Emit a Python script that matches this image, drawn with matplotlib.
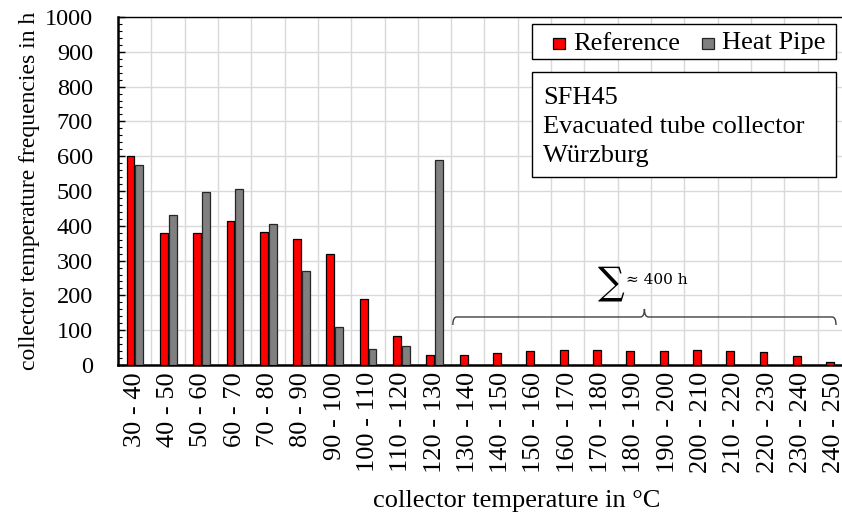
import matplotlib
matplotlib.use("Agg")
import matplotlib.pyplot as plt
import numpy as np
from matplotlib.path import Path
from matplotlib.patches import PathPatch, Rectangle

plt.rcParams['font.family'] = ['Liberation Serif', 'DejaVu Serif']

categories = ["30 - 40", "40 - 50", "50 - 60", "60 - 70", "70 - 80", "80 - 90",
              "90 - 100", "100 - 110", "110 - 120", "120 - 130", "130 - 140",
              "140 - 150", "150 - 160", "160 - 170", "170 - 180", "180 - 190",
              "190 - 200", "200 - 210", "210 - 220", "220 - 230", "230 - 240",
              "240 - 250"]
reference = [600, 378, 380, 414, 382, 361, 319, 190, 84, 29, 29,
             34, 40, 43, 43, 41, 40, 43, 40, 38, 25, 10]
heat_pipe = [575, 432, 496, 507, 404, 271, 110, 46, 55, 590, 0,
             0, 0, 0, 0, 0, 0, 0, 0, 0, 0, 0]
series_names = ["Reference", "Heat Pipe"]
series_colors = ["#ff0000", "#808080"]
series_edges = ["#000000", "#262626"]
yticks = list(range(0, 1001, 100))

W, H = 842, 519
fig = plt.figure(figsize=(W / 100, H / 100), dpi=100)
ax = fig.add_axes([118 / W, 1 - 365 / H, 733 / W, 348 / H])

x = np.arange(len(categories))
bw = 0.235
ax.bar(x - 0.125, reference, width=bw, color=series_colors[0],
       edgecolor=series_edges[0], linewidth=0.9, zorder=3, label=series_names[0])
ax.bar(x + 0.14, heat_pipe, width=bw, color=series_colors[1],
       edgecolor=series_edges[1], linewidth=0.9, zorder=3, label=series_names[1])

ax.set_xlim(-0.5, len(categories) - 0.5)
ax.set_ylim(0, 1000)
ax.set_yticks(yticks)
ax.set_yticks(np.arange(0, 1001, 20), minor=True)
ax.set_xticks(x)
ax.set_xticklabels(categories, rotation=90, va="top", ha="center")
ax.set_xticks(np.arange(0.5, len(categories) - 0.5, 1), minor=True)

ax.grid(True, axis="y", which="major", color="#d9d9d9", linewidth=1.0, zorder=0)
ax.grid(True, axis="x", which="minor", color="#d9d9d9", linewidth=1.0, zorder=0)
ax.set_axisbelow(True)

ax.tick_params(axis="y", which="major", direction="in", length=5, width=1,
               labelsize=17.5, pad=18, color="#000000")
ax.tick_params(axis="y", which="minor", direction="in", length=3, width=0.8)
ax.tick_params(axis="x", which="both", length=0, labelsize=19, pad=5)

for side in ("left", "bottom"):
    ax.spines[side].set_linewidth(1.8)
    ax.spines[side].set_color("#000000")
ax.spines["top"].set_linewidth(1.0)
ax.spines["right"].set_visible(False)

ax.set_ylabel("collector temperature frequencies in h", fontsize=17)
ax.yaxis.set_label_coords(-0.106, 0.5)
ax.set_xlabel("collector temperature in °C", fontsize=19)
ax.xaxis.label.set_verticalalignment("baseline")
ax.xaxis.set_label_coords(0.544, -0.408)

# legend box, drawn by hand in figure pixels
def fx(px):
    return px / W

def fy(py):
    return 1 - py / H

fig.patches.append(Rectangle((fx(532), fy(59)), (836 - 532) / W, (59 - 24) / H,
                             transform=fig.transFigure, facecolor="white",
                             edgecolor="#000000", linewidth=1.0, zorder=5))
for sx, tx, name, fc, ec in zip([553, 702], [573, 722], series_names,
                                series_colors, series_edges):
    fig.patches.append(Rectangle((fx(sx), fy(48.5)), 12 / W, 11 / H,
                                 transform=fig.transFigure, facecolor=fc,
                                 edgecolor=ec, linewidth=0.9, zorder=6))
    fig.text(fx(tx), fy(49.5), name, fontsize=19, va="baseline", ha="left",
             zorder=6)

# info box
fig.patches.append(Rectangle((fx(532), fy(177)), (836 - 532) / W, (177 - 72) / H,
                             transform=fig.transFigure, facecolor="white",
                             edgecolor="#000000", linewidth=1.0, zorder=5))
for i, line in enumerate(["SFH45", "Evacuated tube collector", "Würzburg"]):
    fig.text(fx(543), fy(103.5 + 29.3 * i), line, fontsize=19,
             va="baseline", ha="left", zorder=6)

# brace over the high-temperature bins
bx0, bx1 = 9.55, 21.05
bxc = (bx0 + bx1) / 2
ymid, yend, ytop = 138, 115, 161
r = 0.12
verts = [(bx0, yend), (bx0, ymid), (bx0 + r, ymid),
         (bxc - r, ymid), (bxc, ymid), (bxc, ytop),
         (bxc, ymid), (bxc + r, ymid),
         (bx1 - r, ymid), (bx1, ymid), (bx1, yend)]
codes = [Path.MOVETO, Path.CURVE3, Path.CURVE3,
         Path.LINETO, Path.CURVE3, Path.CURVE3,
         Path.CURVE3, Path.CURVE3,
         Path.LINETO, Path.CURVE3, Path.CURVE3]
ax.add_patch(PathPatch(Path(verts, codes), facecolor="none", edgecolor="#404040",
                       linewidth=1.0, zorder=4))
ax.text(13.9, 233, "\u2211", fontsize=27, family=["DejaVu Serif"],
        ha="left", va="center", zorder=4)
ax.text(14.75, 243, "\u2248 400 h", fontsize=11, family=["DejaVu Serif"],
        ha="left", va="center", zorder=4)

fig.savefig("out.png", dpi=100)
